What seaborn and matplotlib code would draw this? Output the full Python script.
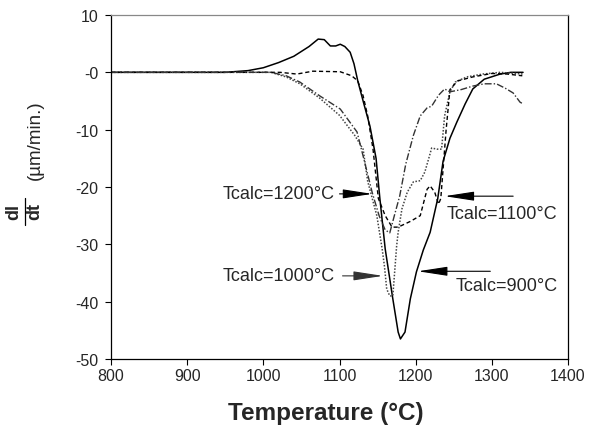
import matplotlib
matplotlib.use("Agg")
import matplotlib.pyplot as plt
from matplotlib.lines import Line2D
import seaborn as sns
import numpy as np
import pandas as pd

# ---------------- data ----------------
t_900 = [800, 950, 980, 1000, 1020, 1040, 1060, 1072, 1080, 1088, 1095, 1101, 1107, 1114, 1119,
         1124, 1132, 1140, 1148, 1153, 1160, 1170, 1177, 1180, 1186, 1193, 1201, 1210, 1219,
         1229, 1236, 1245, 1254, 1265, 1275, 1290, 1311, 1325, 1341]
v_900 = [0, 0, 0.3, 0.8, 1.7, 2.8, 4.5, 5.8, 5.7, 4.6, 4.6, 4.9, 4.5, 3.5, 1.5,
         -1.5, -5.5, -9.4, -15, -22, -30.8, -39.5, -45.3, -46.5, -45.3, -39.5, -34.8, -31, -27.9,
         -22, -15.5, -11.5, -8.7, -5.5, -2.9, -1.2, -0.3, 0, 0]

t_1000 = [800, 1010, 1030, 1048, 1074, 1100, 1120, 1131, 1137, 1149, 1156, 1159, 1162, 1166,
          1170, 1173, 1175, 1177, 1182, 1189, 1197, 1206, 1212, 1217, 1221, 1228, 1234, 1238,
          1245, 1252, 1267, 1288, 1311, 1341]
v_1000 = [0, 0, -0.8, -2.0, -4.5, -7.5, -11, -13.4, -19, -25, -30.8, -33.8, -37.8, -39,
          -39, -33.8, -30.3, -27.9, -23.8, -20.9, -19.1, -18.9, -17.4, -15.1, -13.2, -13.4, -13.4, -7.6,
          -3.4, -1.7, -0.8, -0.3, 0, -0.3]

t_1100 = [800, 1022, 1044, 1065, 1101, 1116, 1124, 1131, 1137, 1144, 1151, 1160, 1169, 1177,
          1193, 1206, 1215, 1219, 1225, 1230, 1233, 1240, 1245, 1255, 1275, 1300, 1320, 1340]
v_1100 = [0, 0, -0.3, 0.2, 0.1, -0.6, -1.5, -4.1, -7.6, -13.4, -22, -25, -27, -27,
          -26, -25, -20.4, -19.8, -20.9, -23.0, -22, -10, -3, -1.5, -0.8, -0.2, -0.3, -0.6]

t_1200 = [800, 1010, 1030, 1048, 1074, 1101, 1123, 1131, 1143, 1152, 1160, 1166, 1172, 1179,
          1187, 1197, 1206, 1215, 1221, 1230, 1238, 1245, 1260, 1275, 1290, 1306, 1318, 1328,
          1337, 1341]
v_1200 = [0, 0, -0.6, -1.7, -4.1, -6.4, -10.4, -14.6, -21, -25, -27.5, -28, -25, -21.6,
          -16, -11, -7.6, -6.2, -5.9, -4, -2.9, -3.4, -3.0, -2.4, -2.0, -2.0, -2.8, -3.6,
          -5.2, -5.5]

x_ticks = [800, 900, 1000, 1100, 1200, 1300, 1400]
y_ticks = [10, 0, -10, -20, -30, -40, -50]
y_tick_labels = ["10", "-0", "-10", "-20", "-30", "-40", "-50"]

labels = ["Tcalc=900°C", "Tcalc=1000°C", "Tcalc=1100°C", "Tcalc=1200°C"]

# ---------------- style ----------------
sns.set_theme(style="white")
plt.rcParams['font.family'] = ['Liberation Sans', 'DejaVu Sans']

fig = plt.figure(figsize=(5.89, 4.27), dpi=100)
ax = fig.add_axes([111/589, 1 - 360/427, (568 - 111)/589, (360 - 16)/427])

series = [
    (t_900, v_900, dict(color="black", linestyle="-", linewidth=1.1)),
    (t_1000, v_1000, dict(color="#444444", linestyle=(0, (1, 1.1)), linewidth=1.1)),
    (t_1100, v_1100, dict(color="black", linestyle=(0, (3, 2)), linewidth=1.0)),
    (t_1200, v_1200, dict(color="#333333", linestyle=(0, (5, 1.5, 1, 1.5)), linewidth=1.0)),
]
for t, v, kw in series:
    df = pd.DataFrame({"T": t, "v": v})
    sns.lineplot(data=df, x="T", y="v", ax=ax, sort=False, estimator=None, **kw)

ax.set_xlim(800, 1400)
ax.set_ylim(-50, 10)
ax.set_xticks(x_ticks)
ax.set_xticklabels([str(x) for x in x_ticks], fontsize=11.5)
ax.set_yticks(y_ticks)
ax.set_yticklabels(y_tick_labels, fontsize=11.5)
ax.tick_params(axis="both", direction="out", length=4, width=0.8, color="black",
               left=True, bottom=True, pad=5)
ax.tick_params(axis="x", pad=2.5)
for s in ["left", "bottom", "right"]:
    ax.spines[s].set_color("black")
    ax.spines[s].set_linewidth(0.9)
ax.spines["top"].set_color("#888888")
ax.spines["top"].set_linewidth(0.9)
ax.set_xlabel("")
ax.set_ylabel("")

# x label placed to match the reference
fig.text(326/589, 1 - 414/427, "Temperature (°C)", fontsize=17.5, fontweight="bold",
         ha="center", va="center")

# y label: hand-built fraction dl/dt + units
fig.text(14/589, 1 - 212/427, "dl", rotation=90, fontsize=13, fontweight="bold",
         ha="center", va="center")
fig.text(35/589, 1 - 212/427, "dt", rotation=90, fontsize=13, fontweight="bold",
         ha="center", va="center")
fig.add_artist(Line2D([24.5/589, 24.5/589], [1 - 199/427, 1 - 226/427], color="black",
                      linewidth=0.9, transform=fig.transFigure))
fig.text(35/589, 1 - 140/427, "(µm/min.)", rotation=90, fontsize=13.5,
         ha="center", va="center")

# annotations
arrow_kw = dict(arrowstyle="-|>,head_length=1.3,head_width=0.2", color="black",
                lw=0.8, mutation_scale=14, shrinkA=0, shrinkB=0)
ax.annotate("", xy=(1143, -21.2), xytext=(1100, -21.2), arrowprops=arrow_kw)
ax.text(1094, -21.2, labels[3], fontsize=13, ha="right", va="center")

ax.annotate("", xy=(1157, -35.5), xytext=(1104, -35.5),
            arrowprops=dict(arrow_kw, color="#333333"))
ax.text(1094, -35.5, labels[1], fontsize=13, ha="right", va="center")

ax.annotate("", xy=(1238, -21.6), xytext=(1328, -21.6), arrowprops=arrow_kw)
ax.text(1241, -24.6, labels[2], fontsize=13, ha="left", va="center")

ax.annotate("", xy=(1203, -34.7), xytext=(1298, -34.7), arrowprops=arrow_kw)
ax.text(1253, -37.2, labels[0], fontsize=13, ha="left", va="center")

fig.savefig("out.png", dpi=100)
